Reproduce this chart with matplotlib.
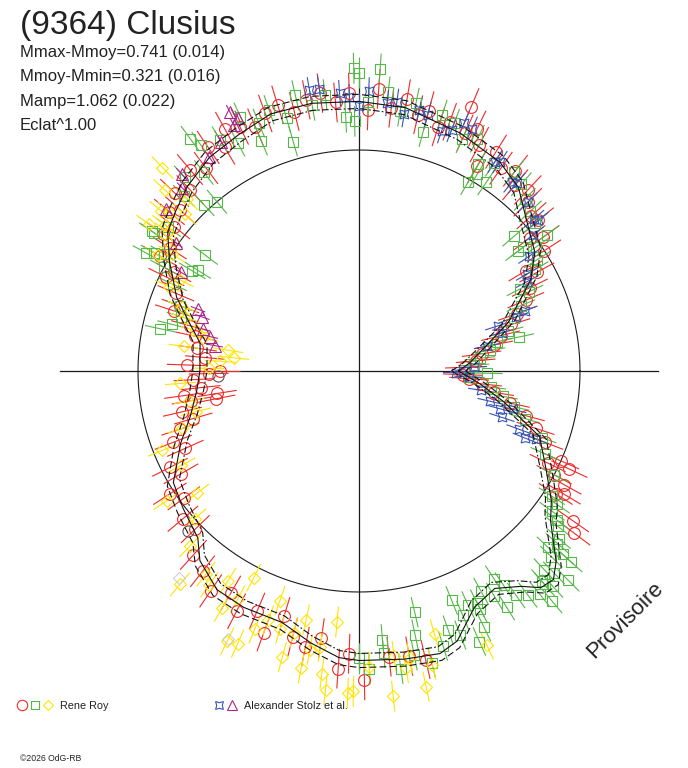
import numpy as np
import matplotlib.pyplot as plt
from matplotlib.collections import LineCollection

# model light curve: phase angle (deg) and relative flux (1 = mean, the circle)
model_phase = [0, 4, 10, 18, 24, 28, 34, 42, 49, 56, 67, 80, 90, 100, 109, 117, 125, 133,
               139, 144, 150, 158, 164, 170, 180, 187, 195, 202, 211, 218, 226, 230, 237,
               244, 253, 260, 266, 270, 279, 286, 290, 296, 302, 307, 310, 313, 316, 322,
               326, 332, 340, 348, 354, 360]
model_flux = [0.45, 0.50, 0.57, 0.71, 0.80, 0.88, 0.96, 1.02, 1.10, 1.14, 1.17, 1.21, 1.22,
              1.23, 1.23, 1.20, 1.18, 1.14, 1.10, 1.07, 0.99, 0.89, 0.80, 0.73, 0.72, 0.74,
              0.79, 0.87, 0.98, 1.01, 1.05, 1.12, 1.18, 1.19, 1.19, 1.25, 1.30, 1.31, 1.32,
              1.33, 1.30, 1.19, 1.16, 1.22, 1.28, 1.29, 1.24, 1.10, 1.05, 0.96, 0.87, 0.67,
              0.55, 0.45]
model_band = 0.032

# Rene Roy, session 1 (circles)
red_ang = [42, 45, 47, 50, 52, 55, 58, 60, 62, 64, 66, 67, 70, 72, 75, 77, 80, 83, 86, 88,
           92, 95, 98, 101, 104, 107, 110, 113, 116, 119, 121, 124, 127, 130, 133, 136, 138,
           140, 142, 145, 147, 150, 152, 154, 157, 160, 162, 165, 168, 172, 175, 178, 180,
           181, 183, 186, 188, 189, 190, 191, 193, 196, 198, 201, 204, 207, 210, 213, 216,
           220, 224, 228, 232,
           236, 240, 243, 247, 250, 253, 256, 259, 262, 266, 268, 271, 276, 280, 283,
           329, 335, 323, 325, 328, 331, 332, 334, 336, 339, 342, 345, 348, 351, 354, 356,
           358, 2, 5, 8, 11, 14, 17, 20, 23, 26, 29, 31, 33, 36, 38, 40]
red_flux = [1.05, 1.08, 1.12, 1.10, 1.15, 1.12, 1.17, 1.07, 1.16, 1.22, 1.18, 1.30, 1.20,
            1.16, 1.22, 1.19, 1.25, 1.20, 1.28, 1.18, 1.26, 1.22, 1.27, 1.25, 1.21, 1.26,
            1.24, 1.20, 1.23, 1.25, 1.18, 1.22, 1.15, 1.19, 1.12, 1.16, 1.09,
            1.12, 1.06, 1.08, 1.02, 1.04, 0.95, 0.97, 0.90, 0.86, 0.88, 0.79, 0.76, 0.74,
            0.70, 0.78, 0.63, 0.68, 0.75, 0.72, 0.80, 0.65, 0.77, 0.66, 0.82, 0.78, 0.85,
            0.90, 0.86, 0.96, 0.93, 1.02, 0.98, 1.04, 1.03, 1.12, 1.15,
            1.20, 1.16, 1.22, 1.18, 1.26, 1.16, 1.24, 1.27, 1.22, 1.35, 1.28, 1.40, 1.30,
            1.31, 1.34,
            1.08, 1.05, 1.22, 1.18, 1.05, 1.06, 1.00, 0.95, 1.00, 0.90, 0.84, 0.78, 0.70,
            0.62, 0.56, 0.50, 0.47, 0.48, 0.53, 0.56, 0.62, 0.66, 0.72, 0.76, 0.82, 0.86,
            0.92, 0.88, 1.00, 1.03, 0.98, 1.06]

# Rene Roy, session 2 (squares)
green_ang = [57, 60, 63, 66, 69, 72, 75, 78, 81, 84, 86, 88, 91, 93, 90, 97, 100, 103, 106,
             109, 112, 115, 118, 121, 125, 128, 132, 135,
             106, 113, 126, 60, 56, 59, 91, 130, 133,
             143, 146, 149, 152, 155, 160, 163, 143, 149, 148, 166, 168, 151, 150, 146,
             3, 6, 9, 12, 15, 19, 22, 25, 27, 30, 32, 35, 37, 40, 43, 46, 49, 52, 41, 37,
             36, 12, 359,
             332, 336, 340, 344, 347, 350, 353, 357, 326, 323,
             270, 272, 275, 278, 281, 284, 287, 289, 291, 293, 295, 297, 299, 301, 303, 305,
             307, 309, 311, 312, 314, 316, 318, 320, 322, 324, 327,
             292, 283, 282, 275, 318, 315, 317, 313, 319, 310, 311, 304, 302, 297, 296, 294]
green_flux = [1.12, 1.08, 1.18, 1.15, 1.20, 1.22, 1.12, 1.24, 1.19, 1.27, 1.37, 1.22, 1.37,
              1.15, 1.35, 1.26, 1.22, 1.28, 1.19, 1.25, 1.21, 1.27, 1.17, 1.22, 1.25, 1.14,
              1.18, 1.12,
              1.08, 1.13, 1.30, 0.99, 1.03, 1.04, 1.13, 1.00, 1.03,
              1.08, 1.12, 1.03, 1.00, 0.93, 0.86, 0.84, 0.87, 0.88, 0.86, 0.87, 0.92, 1.10,
              1.07, 1.13,
              0.52, 0.55, 0.60, 0.64, 0.70, 0.74, 0.79, 0.85, 0.82, 0.92, 0.95, 0.98, 0.93,
              1.04, 1.06, 1.08, 1.12, 1.14, 0.93, 0.90, 1.05, 0.74, 0.58,
              1.00, 0.92, 0.88, 0.78, 0.72, 0.66, 0.60, 0.50, 1.08, 1.12,
              1.30, 1.35, 1.28, 1.36, 1.31, 1.36, 1.30, 1.24, 1.28, 1.20, 1.17, 1.21, 1.14,
              1.19, 1.12, 1.24, 1.27, 1.30, 1.26, 1.31, 1.27, 1.21, 1.24, 1.18, 1.14, 1.08,
              1.04,
              1.12, 1.12, 1.22, 1.22, 1.29, 1.34, 1.17, 1.23, 1.19, 1.36, 1.28, 1.17, 1.26,
              1.18, 1.29, 1.34]

# Rene Roy, session 3 (diamonds)
yellow_ang = [134, 135, 138, 141, 143, 144, 146, 153, 160, 166, 172, 171, 174, 176, 179, 184,
              194, 202, 208, 214, 217, 137, 140, 145, 148, 150, 156, 163, 168, 190, 198, 222,
              226, 230, 233, 238, 240, 242, 243, 244, 246, 250, 251, 255, 256, 258, 259, 260,
              263, 265, 264, 268, 269, 277, 276, 280, 282, 284, 286, 295, 235, 248, 253, 262,
              272, 279]
yellow_flux = [1.28, 1.10, 1.06, 1.15, 1.10, 1.07, 1.04, 0.91, 0.85, 0.76, 0.80, 0.60, 0.57,
               0.63, 0.68, 0.81, 0.76, 0.96, 0.91, 1.05, 0.92, 1.20, 1.12, 1.16, 1.00, 1.05,
               0.94, 0.82, 0.72, 0.78, 0.84, 1.00, 1.10, 1.26, 1.15, 1.12, 1.24, 1.17, 1.05,
               1.36, 1.35, 1.20, 1.10, 1.34, 1.22, 1.15, 1.37, 1.28, 1.38, 1.14, 1.45, 1.46,
               1.45, 1.30, 1.48, 1.32, 1.46, 1.37, 1.24, 1.37, 1.18, 1.26, 1.22, 1.26, 1.34,
               1.36]

# Alexander Stolz et al. (stars and triangles)
blue_ang = [100, 98, 94, 92, 88, 90, 84, 82, 80, 77, 75, 71, 69, 67, 65, 57, 56, 50, 45, 41,
            51, 40, 38, 34, 30, 28, 20, 19, 15, 18, 11, 2, 0, 359, 357, 351, 347, 345, 342,
            346, 340, 338, 339]
blue_flux = [1.29, 1.29, 1.26, 1.24, 1.27, 1.20, 1.22, 1.23, 1.18, 1.21, 1.20, 1.15, 1.17,
             1.22, 1.21, 1.13, 1.14, 1.11, 1.08, 1.05, 1.10, 1.06, 1.00, 0.93, 0.88, 0.86,
             0.80, 0.75, 0.67, 0.66, 0.59, 0.52, 0.47, 0.44, 0.50, 0.56, 0.61, 0.66, 0.68,
             0.72, 0.77, 0.81, 0.86]
purple_ang = [116.5, 115.5, 117, 121, 125, 132, 134, 140, 145, 151, 159, 161, 165, 170, 167]
purple_flux = [1.31, 1.27, 1.25, 1.21, 1.18, 1.20, 1.15, 1.14, 1.01, 0.92, 0.78, 0.75, 0.73,
               0.66, 0.69]

# rejected measurements
reject_ang = [229, 244, 182, 223]
reject_flux = [1.24, 1.35, 0.64, 1.06]

# typical error of each set (relative flux)
err_red, err_green, err_yellow, err_blue, err_purple = 0.09, 0.07, 0.07, 0.06, 0.035

title = "(9364) Clusius"
stats = ["Mmax-Mmoy=0.741 (0.014)", "Mmoy-Mmin=0.321 (0.016)", "Mamp=1.062 (0.022)",
         "Eclat^1.00"]
observers = ["Rene Roy", "Alexander Stolz et al."]

W, H = 688, 768
CX, CY, UNIT = 359, 371, 221   # centre of the plot in pixels, pixels per unit of flux
FONT = ['Liberation Sans', 'DejaVu Sans']
RED, GREEN, YELLOW, BLUE, PURPLE = '#ee2a2a', '#55b848', '#ffe400', '#3a55b4', '#a8288a'


def xy(ang, r):
    a = np.radians(np.asarray(ang, float))
    r = np.asarray(r, float)
    return r * np.cos(a), r * np.sin(a)


fig = plt.figure(figsize=(W / 100, H / 100), dpi=100)
ax = fig.add_axes([0, 0, 1, 1])
ax.set_xlim(-CX / UNIT, (W - CX) / UNIT)
ax.set_ylim(-(H - CY) / UNIT, CY / UNIT)
ax.axis('off')

# mean-flux circle and axes
t = np.linspace(0, 360, 361)
cx, cy = xy(t, np.ones_like(t))
ax.plot(cx, cy, color='#1a1a1a', lw=0.8, zorder=1)
lim = 1.355
ax.plot([-lim, lim], [0, 0], color='#1a1a1a', lw=0.9, zorder=1)
ax.plot([0, 0], [-lim, lim], color='#1a1a1a', lw=0.9, zorder=1)

# measurements with radial error bars
sets = [
    (red_ang, red_flux, err_red, RED, 'o', 8.5),
    (green_ang, green_flux, err_green, GREEN, 's', 7),
    (yellow_ang, yellow_flux, err_yellow, YELLOW, 'D', 6.5),
    (purple_ang, purple_flux, err_purple, PURPLE, '^', 8),
    (blue_ang, blue_flux, err_blue, BLUE, (4, 1, 45), 9),
]
for ang, flux, err, col, mk, ms in sets:
    flux = np.asarray(flux)
    x0, y0 = xy(ang, flux - err)
    x1, y1 = xy(ang, flux + err)
    segs = [[(a, b), (c, d)] for a, b, c, d in zip(x0, y0, x1, y1)]
    ax.add_collection(LineCollection(segs, colors=col, linewidths=0.8, zorder=2))
    px, py = xy(ang, flux)
    ax.plot(px, py, ls='none', marker=mk, ms=ms, mfc='none', mec=col, mew=0.8, zorder=3)

rx, ry = xy(reject_ang[:2], reject_flux[:2])
ax.plot(rx, ry, ls='none', marker='D', ms=6.5, mfc='none', mec='#d0d0d0', mew=0.8, zorder=3)
rx, ry = xy(reject_ang[2:], reject_flux[2:])
ax.plot(rx, ry, ls='none', marker='o', ms=8, mfc='none', mec='#555555', mew=0.8, zorder=3)

# model curve with its uncertainty band
mf = np.asarray(model_flux)
mx, my = xy(model_phase, mf)
ax.plot(mx, my, color='#111111', lw=0.8, zorder=4)
ox, oy = xy(model_phase, mf + model_band)
ax.plot(ox, oy, color='#111111', lw=0.8, ls=(0, (6, 3)), zorder=4)
ix, iy = xy(model_phase, mf - model_band)
ax.plot(ix, iy, color='#111111', lw=0.8, ls=(0, (6, 2, 1.5, 2)), zorder=4)

# texts
fig.text(20 / W, 1 - 34 / H, title, fontsize=24, color='#222222', family=FONT)
for i, s in enumerate(stats):
    fig.text(20 / W, 1 - (57 + 24.4 * i) / H, s, fontsize=12, color='#222222', family=FONT)
fig.text(625 / W, 1 - 620 / H, "Provisoire", fontsize=16, rotation=45, color='#222222',
         ha='center', va='center', family=FONT)

# legend
def legend_mark(xp, mk, col, ms):
    ax.plot([xp / W], [1 - 705 / H], transform=fig.transFigure, ls='none', marker=mk, ms=ms,
            mfc='none', mec=col, mew=0.8, clip_on=False)

legend_mark(22, 'o', RED, 7.5)
legend_mark(35, 's', GREEN, 5.5)
legend_mark(48, 'D', YELLOW, 5.5)
legend_mark(219, (4, 1, 45), BLUE, 8)
legend_mark(232, '^', PURPLE, 7)
fig.text(60 / W, 1 - 709 / H, observers[0], fontsize=7.8, color='#222222', family=FONT)
fig.text(244 / W, 1 - 709 / H, observers[1], fontsize=7.8, color='#222222', family=FONT)
fig.text(20 / W, 1 - 761 / H, "\u00a92026 OdG-RB", fontsize=6.2, color='#222222', family=FONT)

fig.savefig('out.png', dpi=100)
